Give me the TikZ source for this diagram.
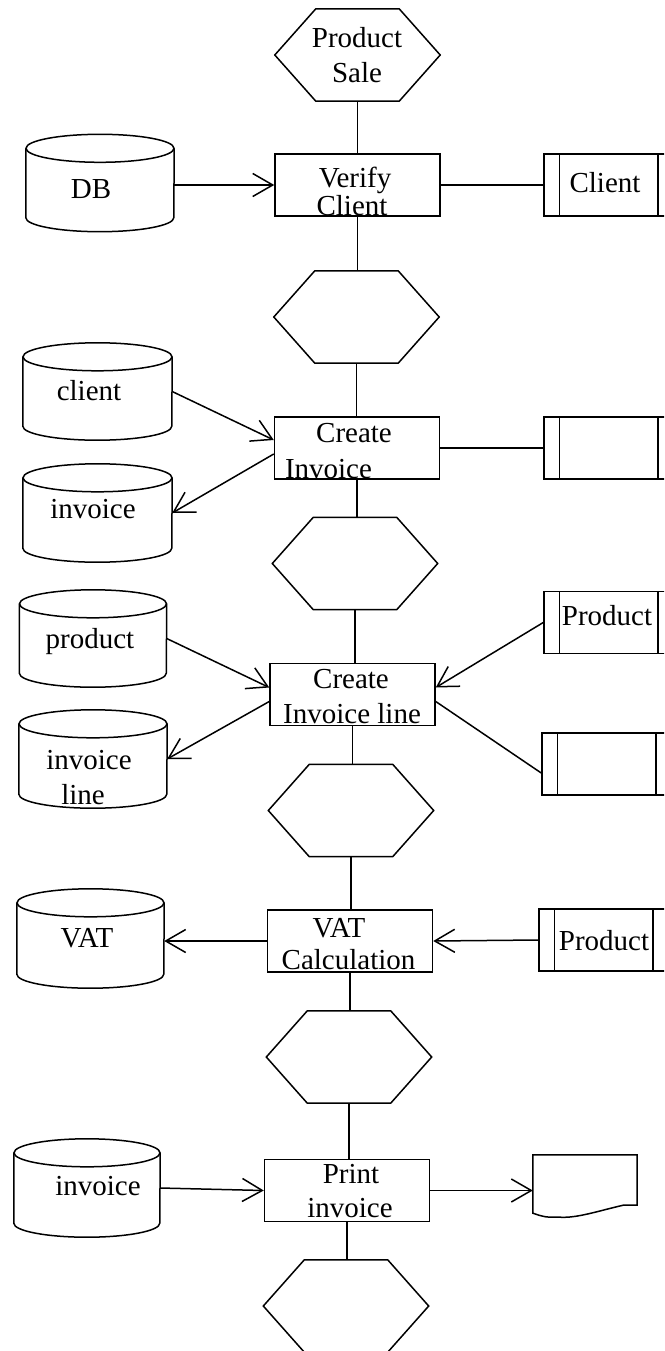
\documentclass[tikz,border=0pt]{standalone}
\usepackage{fontspec}
\setmainfont{Liberation Serif}
\usetikzlibrary{arrows.meta,calc}
\tikzset{
  con/.style={line width=1.5pt},
  arr/.style={line width=1.5pt, -{Straight Barb[length=20pt,width=23pt,line width=1.5pt]}},
  procbox/.style={draw, line width=1.5pt, rectangle, minimum width=165pt, minimum height=62pt, inner sep=0pt},
  hexbox/.style={rectangle, draw=none, minimum width=165pt, minimum height=92pt, inner sep=0pt},
  cylbox/.style={rectangle, draw=none, inner sep=0pt},
  storebox/.style={draw, line width=1.5pt, rectangle, minimum width=129pt, minimum height=62pt, inner sep=0pt},
  docbox/.style={rectangle, draw=none, minimum width=104pt, minimum height=58pt, inner sep=0pt},
  txt/.style={font=\fontsize{29}{35}\selectfont, anchor=base, inner sep=0pt},
}
\newcommand\hexnode[2]{%
  \node[hexbox] (#1) at (#2) {};
  \draw[con] (#1.west) -- ([xshift=41pt]#1.north west) -- ([xshift=-41pt]#1.north east) -- (#1.east)
    -- ([xshift=-41pt]#1.south east) -- ([xshift=41pt]#1.south west) -- cycle;}
\newcommand\cylnode[4]{%
  \node[cylbox, minimum width=#3pt, minimum height=#4pt] (#1) at (#2) {};
  \draw[con] ([yshift=-14pt]#1.north west) -- ([yshift=14pt]#1.south west)
    arc[start angle=180, end angle=360, x radius=#3pt/2, y radius=14pt] -- ([yshift=-14pt]#1.north east);
  \draw[con] ([yshift=-14pt]#1.north) ellipse [x radius=#3pt/2, y radius=14pt];}
\newcommand\storenode[2]{%
  \node[storebox] (#1) at (#2) {};
  \draw[con] ([xshift=16pt]#1.north west) -- ([xshift=16pt]#1.south west);
  \draw[con] ([xshift=-16pt]#1.north east) -- ([xshift=-16pt]#1.south east);}
\begin{document}
\begin{tikzpicture}[x=1pt,y=-1pt]
\useasboundingbox (0,0) rectangle (664,1351);
\clip (0,0) rectangle (664,1351);

% hexagons
\hexnode{h1}{357.5,55}
\hexnode{h2}{356.5,317}
\hexnode{h3}{355,563.5}
\hexnode{h4}{351,810.5}
\hexnode{h5}{349,1057}
\hexnode{h6}{346,1306}

% process boxes
\node[procbox] (vc) at (357.5,185) {};
\node[procbox] (ci) at (357,448) {};
\node[procbox] (cil) at (352.5,694.5) {};
\node[procbox] (vat) at (350,941) {};
\node[procbox] (pr) at (347,1190.5) {};

% cylinders
\cylnode{db}{100,183}{148}{97}
\cylnode{cl}{97.5,391.5}{149}{97}
\cylnode{inv}{97.5,513}{149}{98}
\cylnode{prod}{93,638.5}{147}{97}
\cylnode{invl}{93,759}{148}{98}
\cylnode{vatc}{90.5,938.5}{147}{99}
\cylnode{invp}{87,1188}{146}{98}

% stores
\storenode{rb1}{608.5,185}
\storenode{rb2}{608.5,448}
\storenode{rb3}{608.5,622.5}
\storenode{rb4}{606.5,764}
\storenode{rb5}{603.5,940}

% document
\node[docbox] (doc) at (585,1184) {};
\draw[con] (doc.south west) -- (doc.north west) -- (doc.north east) -- ([yshift=8pt]doc.south east)
  -- ([xshift=-14pt,yshift=8pt]doc.south east)
  .. controls ([xshift=-40pt,yshift=2pt]doc.south east) and ([xshift=-60pt,yshift=-5pt]doc.south east) .. ([xshift=27pt,yshift=-4pt]doc.south west)
  .. controls ([xshift=12pt,yshift=-4pt]doc.south west) .. (doc.south west) -- cycle;

% texts
\node[txt] (t1) at (357,48) {Product};
\node[txt] (t2) at (357,83) {Sale};
\node[txt] (t3) at (355,188) {Verify};
\node[txt] (t4) at (352,215) {Client};
\node[txt] (t5) at (91,199) {DB};
\node[txt] (t6) at (605,193) {Client};
\node[txt] (t7) at (89,400) {client};
\node[txt] (t8) at (93,518) {invoice};
\node[txt] (t9) at (354,442) {Create};
\node[txt] (t10) at (328.5,478) {Invoice};
\node[txt] (t11) at (90,648) {product};
\node[txt] (t12) at (89,769) {invoice};
\node[txt] (t13) at (83,804) {line};
\node[txt] (t14) at (351,688) {Create};
\node[txt] (t15) at (352,723) {Invoice line};
\node[txt] (t16) at (607,625) {Product};
\node[txt] (t17) at (87,947) {VAT};
\node[txt] (t18) at (339,937) {VAT};
\node[txt] (t19) at (348.5,969) {Calculation};
\node[txt] (t20) at (604,950) {Product};
\node[txt] (t21) at (98,1195) {invoice};
\node[txt] (t22) at (351,1183) {Print};
\node[txt] (t23) at (350,1217) {invoice};

% vertical flow
\draw[con] (h1.south) -- (h1.south |- vc.north);
\draw[con] (vc.south) -- (vc.south |- h2.north);
\draw[con] (h2.south) -- (h2.south |- ci.north);
\draw[con] (ci.south) -- (ci.south |- h3.north);
\draw[con] (h3.south) -- (h3.south |- cil.north);
\draw[con] (cil.south) -- (cil.south |- h4.north);
\draw[con] (h4.south) -- (h4.south |- vat.north);
\draw[con] (vat.south) -- (vat.south |- h5.north);
\draw[con] (h5.south) -- (h5.south |- pr.north);
\draw[con] (pr.south) -- (pr.south |- h6.north);

% side connectors
\draw[arr] (db.east |- vc.west) -- (vc.west);
\draw[con] (vc.east) -- (rb1.west);
\draw[arr] (cl.east) -- ($(ci.west)+(0,-8)$);
\draw[arr] ($(ci.west)+(0,6)$) -- (inv.east);
\draw[con] (ci.east) -- (rb2.west);
\draw[arr] (prod.east) -- ($(cil.west)+(0,-7)$);
\draw[arr] ($(cil.west)+(0,7)$) -- (invl.east);
\draw[arr] (rb3.west) -- ($(cil.east)+(0,-7)$);
\draw[con] ($(cil.east)+(0,7)$) -- ($(rb4.west)+(0,9)$);
\draw[arr] (vat.west) -- (vatc.east |- vat.west);
\draw[arr] (rb5.west) -- (vat.east);
\draw[arr] (invp.east) -- (pr.west);
\draw[arr] (pr.east) -- (doc.west |- pr.east);
\end{tikzpicture}
\end{document}
